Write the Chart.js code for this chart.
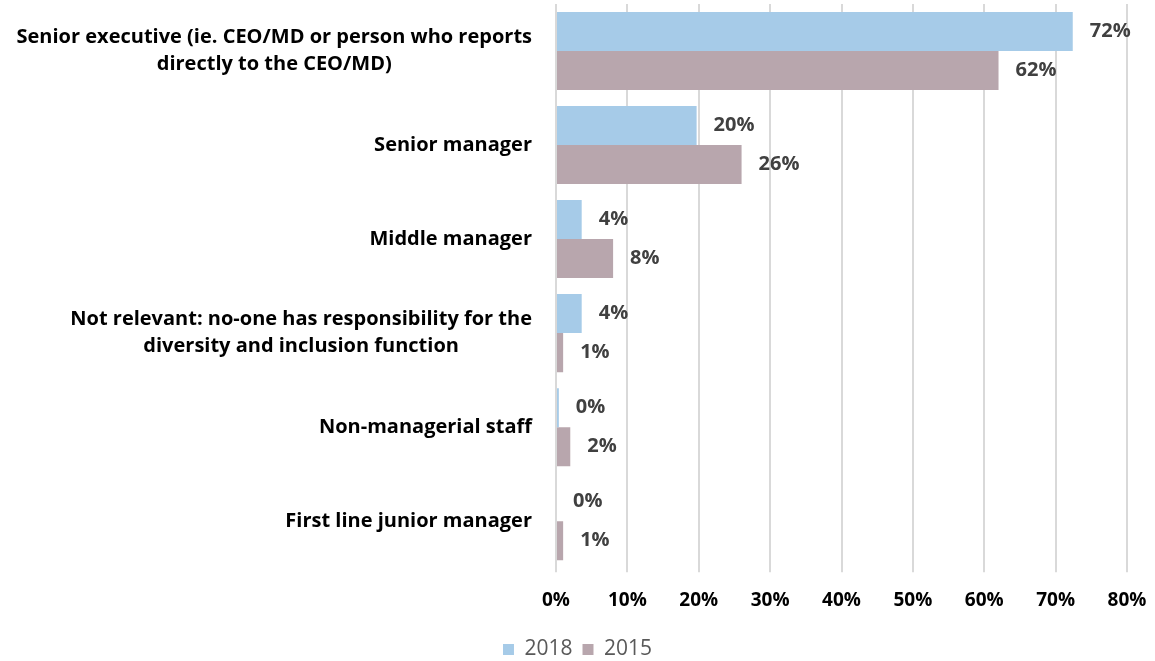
<!DOCTYPE html>
<html>
<head>
<meta charset="utf-8">
<script src="https://cdn.jsdelivr.net/npm/chart.js@4.4.1/dist/chart.umd.min.js"></script>
<style>
  html,body{margin:0;padding:0;background:#fff;overflow:hidden;}
  #wrap{width:1155px;height:661px;overflow:hidden;}
  #box{width:1155px;height:670px;position:relative;}
</style>
</head>
<body>
<div id="wrap"><div id="box"><canvas id="c"></canvas></div></div>
<script>
// who holds responsibility for diversity & inclusion, share of respondents (%)
const categories = [
  ["Senior executive (ie. CEO/MD or person who reports", "directly to the CEO/MD)"],
  ["Senior manager"],
  ["Middle manager"],
  ["Not relevant: no-one has responsibility for the", "diversity and inclusion function"],
  ["Non-managerial staff"],
  ["First line junior manager"]
];
const values2018 = [72.4, 19.7, 3.6, 3.6, 0.4, 0];
const values2015 = [62, 26, 8, 1, 2, 1];
const xTicks = [0, 10, 20, 30, 40, 50, 60, 70, 80];

const FONT = "'Open Sans', sans-serif";
const LABEL_RIGHT = 532;

// category labels: block right-aligned, lines centred inside the block
const catLabels = {
  id: "catLabels",
  afterDraw(chart){
    const ctx = chart.ctx, y = chart.scales.y;
    ctx.save();
    ctx.font = "bold 20px " + FONT;
    ctx.fillStyle = "#000";
    ctx.textAlign = "center";
    ctx.textBaseline = "middle";
    const lh = 27;
    categories.forEach((lines, i) => {
      const w = Math.max(...lines.map(l => ctx.measureText(l).width));
      const cx = LABEL_RIGHT - w / 2;
      const cy = y.getPixelForTick(i);
      lines.forEach((l, k) => {
        ctx.fillText(l, cx, cy + (k - (lines.length - 1) / 2) * lh);
      });
    });
    ctx.restore();
  }
};

// value labels to the right of each bar
const valueLabels = {
  id: "valueLabels",
  afterDatasetsDraw(chart){
    const ctx = chart.ctx;
    ctx.save();
    ctx.font = "bold 20px " + FONT;
    ctx.fillStyle = "#404040";
    ctx.textAlign = "left";
    ctx.textBaseline = "middle";
    chart.data.datasets.forEach((ds, di) => {
      chart.getDatasetMeta(di).data.forEach((bar, i) => {
        ctx.fillText(Math.round(ds.data[i]) + "%", bar.x + 17, bar.y);
      });
    });
    ctx.restore();
  }
};

new Chart(document.getElementById("c").getContext("2d"), {
  type: "bar",
  data: {
    labels: categories.map(l => l.join(" ")),
    datasets: [
      { label: "2018", data: values2018, backgroundColor: "#a6cbe8", barPercentage: 1, categoryPercentage: 0.83 },
      { label: "2015", data: values2015, backgroundColor: "#b8a6ad", barPercentage: 1, categoryPercentage: 0.83 }
    ]
  },
  options: {
    indexAxis: "y",
    responsive: true, maintainAspectRatio: false,
    animation: false,
    layout: { padding: { left: 0, right: 0, top: 4, bottom: 0 } },
    plugins: {
      legend: {
        position: "bottom",
        labels: { boxWidth: 11, boxHeight: 11, color: "#595959", font: { family: FONT, size: 21 }, padding: 10 }
      },
      tooltip: { enabled: false }
    },
    scales: {
      x: {
        min: 0, max: 80,
        afterBuildTicks(scale){ scale.ticks = xTicks.map(v => ({ value: v })); },
        afterFit(scale){ scale.paddingRight = 28; },
        ticks: { callback: v => v + "%", color: "#000", font: { family: FONT, size: 19, weight: "bold" }, padding: 17, maxRotation: 0 },
        grid: { color: "#d9d9d9", lineWidth: 2, tickLength: 4, drawTicks: true },
        border: { display: false }
      },
      y: {
        afterFit(scale){ scale.width = 556; },
        ticks: { display: false },
        grid: { display: false },
        border: { display: false }
      }
    }
  },
  plugins: [catLabels, valueLabels]
});
</script>
</body>
</html>
